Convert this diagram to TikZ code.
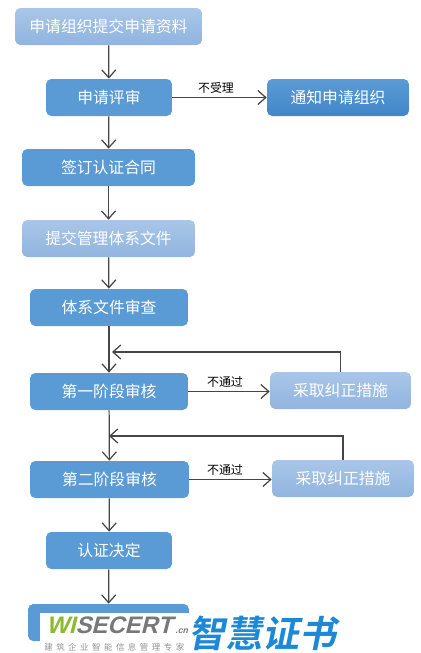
\documentclass[tikz,border=0pt]{standalone}
\usepackage{fontspec}
\setmainfont{Liberation Sans}
\newfontfamily\cjk{Noto Sans CJK SC}
\newfontfamily\cjkslant[FakeSlant=0.2]{Noto Sans CJK SC Bold}
\newfontfamily\logofont[FakeSlant=0.25]{Liberation Sans Bold}
\usetikzlibrary{arrows.meta, positioning}
\definecolor{boxdark}{RGB}{91, 155, 213}
\definecolor{boxdeep}{RGB}{64, 134, 200}
\definecolor{boxlight}{RGB}{168, 198, 232}
\definecolor{boxpale}{RGB}{145, 180, 222}
\definecolor{linegray}{RGB}{70, 70, 70}
\definecolor{logogreen}{RGB}{140, 186, 48}
\definecolor{logogray}{RGB}{120, 120, 120}
\definecolor{logoblue}{RGB}{28, 136, 214}

\begin{document}
\begin{tikzpicture}[
      x=0.02cm, y=-0.02cm,
      stagebox/.style={rectangle, rounded corners=3pt, fill=boxdark, text=white, minimum height=0.74cm, inner sep=0pt, font=\cjk\fontsize{9}{10}\selectfont},
      lightbox/.style={stagebox, fill=none, top color=boxlight, bottom color=boxpale},
      notifybox/.style={stagebox, fill=none, top color=boxdark, bottom color=boxdeep},
      tag/.style={font=\cjk\fontsize{6.8}{8}\selectfont, text=black, inner sep=0pt},
      arr/.style={-{Straight Barb[length=4.5pt,width=8pt]}, line width=0.7pt, linegray}
    ]
      \useasboundingbox (0,0) rectangle (421,653);

      \node[lightbox, minimum width=3.74cm] (Submit) at (108.5, 26.5) {申请组织提交申请资料};
      \node[stagebox, minimum width=2.52cm] (Review) at (109, 97.5) {申请评审};
      \node[notifybox, minimum width=2.84cm] (Notify) at (338, 97.5) {通知申请组织};
      \node[stagebox, minimum width=3.46cm] (Contract) at (108.5, 167.5) {签订认证合同};
      \node[lightbox, minimum width=3.46cm] (Docs) at (108.5, 238.5) {提交管理体系文件};
      \node[stagebox, minimum width=3.16cm] (DocReview) at (109, 307.5) {体系文件审查};
      \node[stagebox, minimum width=3.16cm] (StageOne) at (109, 391.5) {第一阶段审核};
      \node[lightbox, minimum width=2.82cm] (FixOne) at (340.5, 390.5) {采取纠正措施};
      \node[stagebox, minimum width=3.18cm] (StageTwo) at (109.5, 479.5) {第二阶段审核};
      \node[lightbox, minimum width=2.84cm] (FixTwo) at (343, 478.5) {采取纠正措施};
      \node[stagebox, minimum width=2.52cm] (Decide) at (109, 550.5) {认证决定};
      \node[stagebox, minimum width=3.22cm] (Cert) at (108.5, 622.5) {};

      \coordinate (BackOne) at (112, 352);
      \coordinate (BackTwo) at (109, 436);

      \draw[arr] (Submit) -- (Review);
      \draw[arr] (Review) -- (Contract);
      \draw[arr] (Contract) -- (Docs);
      \draw[arr] (Docs) -- (DocReview);
      \draw[arr] (DocReview) -- (StageOne);
      \draw[arr] (StageOne) -- (StageTwo);
      \draw[arr] (StageTwo) -- (Decide);
      \draw[arr] (Decide) -- (Cert);

      \draw[arr] (Review) -- (Notify);
      \draw[arr] (StageOne.east) -- (FixOne.west |- StageOne.east);
      \draw[arr] (StageTwo.east) -- (FixTwo.west |- StageTwo.east);
      \draw[arr] (FixOne.north) |- (BackOne);
      \draw[arr] (FixTwo.north) |- (BackTwo);

      \node[tag] (TagReject) at (216, 87.5) {不受理};
      \node[tag] (TagFailOne) at (225, 381.5) {不通过};
      \node[tag] (TagFailTwo) at (225, 469.5) {不通过};

      % logo over the last box
      \node[fill=white, minimum width=3cm, minimum height=0.8cm, inner sep=0pt] (LogoPatch) at (115, 633) {};
      \node[inner sep=0pt, anchor=base west] (LogoWord) at (46, 633) {\logofont\fontsize{13.6}{15}\selectfont\textcolor{logogreen}{WI}\textcolor{logogray}{SECERT}};
      \node[inner sep=0pt, anchor=base west, text=logogray] (LogoCn) at (175, 633) {\logofont\fontsize{5}{6}\selectfont .cn};
      \node[inner sep=0pt, anchor=base west, text=logoblue] (LogoTitle) at (188, 647) {\cjkslant\fontsize{21}{23}\selectfont 智慧证书};
      \node[inner sep=0pt, anchor=base west, text=logogray!80] (LogoSub) at (44, 650) {\cjk\fontsize{4.8}{6}\selectfont 建\hspace{2pt}筑\hspace{2pt}企\hspace{2pt}业\hspace{2pt}智\hspace{2pt}能\hspace{2pt}信\hspace{2pt}息\hspace{2pt}管\hspace{2pt}理\hspace{2pt}专\hspace{2pt}家};
    \end{tikzpicture}
\end{document}
